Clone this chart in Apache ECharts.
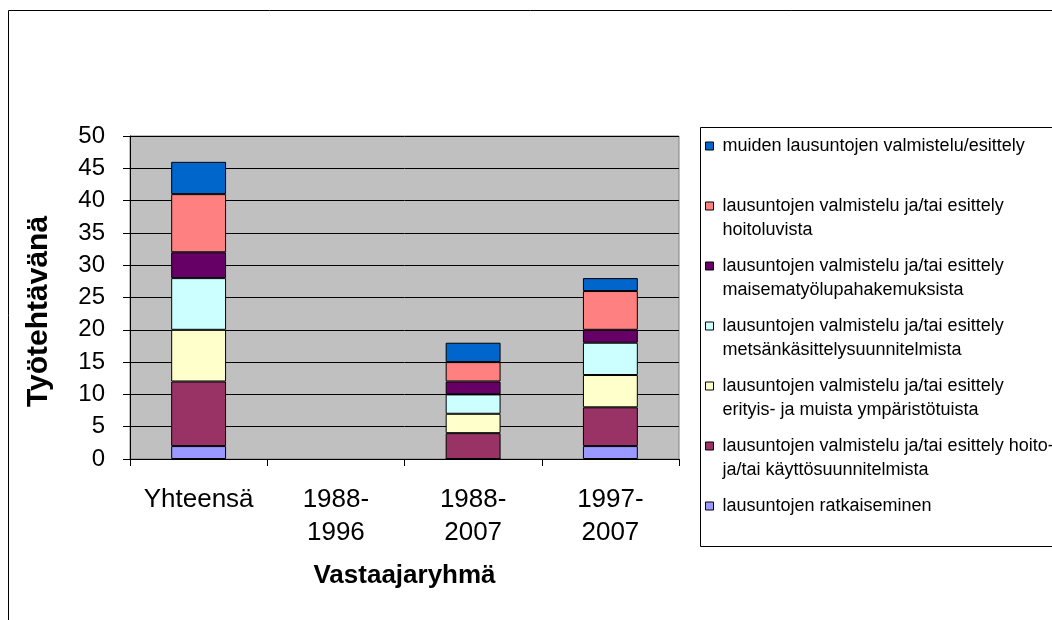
<!DOCTYPE html>
<html>
<head>
<meta charset="utf-8">
<script src="https://cdn.jsdelivr.net/npm/echarts@6/dist/echarts.min.js"></script>
<style>html,body{margin:0;padding:0;background:#fff}#c{width:1052px;height:620px}</style>
</head>
<body>
<div id="c"></div>
<script>
const categories = ['Yhteensä', '1988-\n1996', '1988-\n2007', '1997-\n2007'];
const yTicks = { min: 0, max: 50, interval: 5 };
const seriesNames = [
  'lausuntojen ratkaiseminen',
  'lausuntojen valmistelu ja/tai esittely hoito-\nja/tai käyttösuunnitelmista',
  'lausuntojen valmistelu ja/tai esittely\nerityis- ja muista ympäristötuista',
  'lausuntojen valmistelu ja/tai esittely\nmetsänkäsittelysuunnitelmista',
  'lausuntojen valmistelu ja/tai esittely\nmaisematyölupahakemuksista',
  'lausuntojen valmistelu ja/tai esittely\nhoitoluvista',
  'muiden lausuntojen valmistelu/esittely'
];
const ratkaiseminen = [2, null, 0, 2];
const hoitoKaytto = [10, null, 4, 6];
const ymparistotuet = [8, null, 3, 5];
const metsankasittely = [8, null, 3, 5];
const maisematyo = [4, null, 2, 2];
const hoitoluvat = [9, null, 3, 6];
const muut = [5, null, 3, 2];
const seriesValues = [ratkaiseminen, hoitoKaytto, ymparistotuet, metsankasittely, maisematyo, hoitoluvat, muut];
const colors = ['#9999FF', '#993366', '#FFFFCC', '#CCFFFF', '#660066', '#FF8080', '#0066CC'];

const font = "'Liberation Sans', Arial, sans-serif";
const chart = echarts.init(document.getElementById('c'));
chart.setOption({
  animation: false,
  textStyle: { fontFamily: font },
  graphic: [
    { type: 'rect', shape: { x: 8.5, y: 10.5, width: 1200, height: 800 }, style: { fill: 'none', stroke: '#000', lineWidth: 1 }, silent: true, z: -10 },
    { type: 'rect', shape: { x: 700.5, y: 127.5, width: 500, height: 419 }, style: { fill: '#fff', stroke: '#000', lineWidth: 1 }, silent: true, z: -5 }
  ],
  grid: {
    left: 130, right: 373, top: 136, bottom: 161,
    show: true, backgroundColor: '#C0C0C0', borderColor: '#808080', borderWidth: 1
  },
  legend: {
    orient: 'vertical', left: 705, top: 110, padding: 0,
    itemWidth: 8, itemHeight: 8, itemGap: -12,
    icon: 'rect',
    data: seriesNames.slice().reverse(),
    formatter: function (n) { return ' \n' + (n.indexOf('\n') >= 0 ? n : n + '\n '); },
    textStyle: { fontFamily: font, fontSize: 18, color: '#000', lineHeight: 24, padding: [0, 0, 0, 4] },
    itemStyle: { borderColor: '#000', borderWidth: 1 }
  },
  xAxis: {
    type: 'category', data: categories,
    name: 'Vastaajaryhmä', nameLocation: 'middle', nameGap: 104,
    nameTextStyle: { fontFamily: font, fontSize: 26, fontWeight: 'bold', color: '#000' },
    axisLine: { lineStyle: { color: '#000', width: 1 } },
    axisTick: { show: true, interval: 0, length: 7, lineStyle: { color: '#000' } },
    axisLabel: { interval: 0, hideOverlap: false, fontFamily: font, fontSize: 26, color: '#000', lineHeight: 33, margin: 24 }
  },
  yAxis: {
    type: 'value', min: yTicks.min, max: yTicks.max, interval: yTicks.interval,
    name: 'Työtehtävänä', nameLocation: 'middle', nameGap: 76, nameRotate: 90,
    nameTextStyle: { fontFamily: font, fontSize: 30, fontWeight: 'bold', color: '#000', padding: [0, 28, 0, 0] },
    axisLine: { show: true, lineStyle: { color: '#000', width: 1 } },
    axisTick: { show: true, length: 7, lineStyle: { color: '#000' } },
    axisLabel: { fontFamily: font, fontSize: 24, color: '#000', margin: 25 },
    splitLine: { show: true, lineStyle: { color: '#000', width: 1 } }
  },
  series: seriesNames.map(function (name, i) {
    return {
      name: name, type: 'bar', stack: 'total', data: seriesValues[i],
      barWidth: '40%',
      itemStyle: { color: colors[i], borderColor: '#000', borderWidth: 1 }
    };
  })
});
</script>
</body>
</html>
